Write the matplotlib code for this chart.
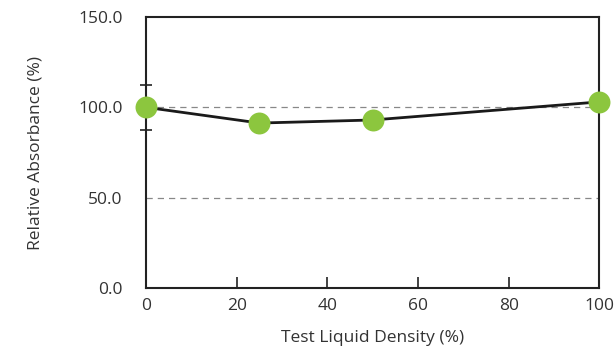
import matplotlib
matplotlib.use("Agg")
import matplotlib.pyplot as plt

# data
density = [0, 25, 50, 100]
absorbance = [100.0, 91.3, 93.0, 103.0]
err = [12.5, 0, 0, 0]
x_ticks = [0, 20, 40, 60, 80, 100]
y_ticks = [0, 50, 100, 150]

plt.rcParams['font.family'] = ['Open Sans', 'DejaVu Sans']
text_color = '#333333'
fs = 12.5

fig = plt.figure(figsize=(6.14, 3.47), dpi=100)
ax = fig.add_axes([0.238, 0.170, 0.738, 0.781])

# dashed grid lines at 50 and 100
for yv in y_ticks[1:-1]:
    ax.axhline(yv, color='#888888', linewidth=0.9, linestyle=(0, (5, 4)), zorder=1)

# error bar on the first point only
ax.errorbar(density[:1], absorbance[:1], yerr=err[:1], fmt='none',
            ecolor='#222222', elinewidth=1.2, capsize=4.3, capthick=1.2,
            zorder=2, clip_on=False)

ax.plot(density, absorbance, color='#1a1a1a', linewidth=2, zorder=3, clip_on=False)
ax.plot(density, absorbance, 'o', color='#8cc63e', markersize=15.8,
        markeredgewidth=0, zorder=4, clip_on=False)

ax.set_xlim(0, 100)
ax.set_ylim(0, 150)
ax.set_xticks(x_ticks)
ax.set_yticks(y_ticks)
ax.set_yticklabels([f"{v:.1f}" for v in y_ticks])

ax.tick_params(axis='x', direction='in', length=8, width=1.2, color='#222222',
               pad=7, labelsize=fs, labelcolor=text_color)
ax.tick_params(axis='y', length=0, pad=17, labelsize=fs, labelcolor=text_color)

for s in ax.spines.values():
    s.set_linewidth(1.5)
    s.set_color('#222222')

ax.set_xlabel("Test Liquid Density (%)", fontsize=fs, color=text_color, va='center')
ax.set_ylabel("Relative Absorbance (%)", fontsize=fs, color=text_color, va='center')
ax.xaxis.set_label_coords(0.5, -0.185)
ax.yaxis.set_label_coords(-0.245, 0.5)

fig.savefig("out.png", dpi=100)
